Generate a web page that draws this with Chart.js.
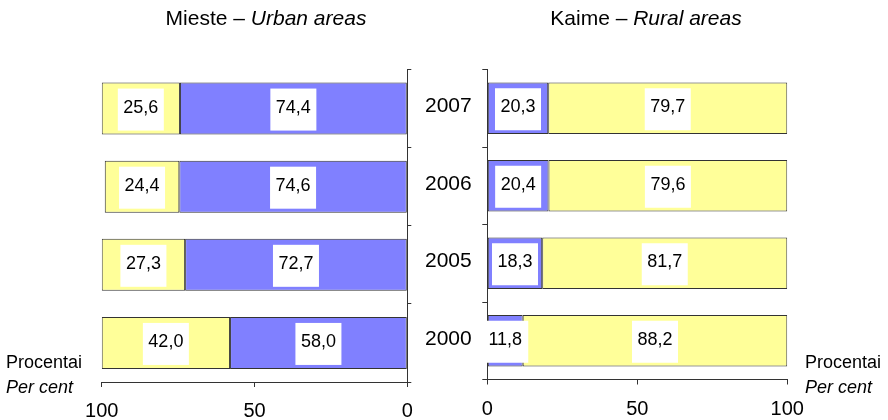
<!DOCTYPE html>
<html>
<head>
<meta charset="utf-8">
<script src="https://cdn.jsdelivr.net/npm/chart.js@4.4.1/dist/chart.umd.min.js"></script>
<style>
  html, body { margin: 0; padding: 0; background: #fff; }
  #wrap { position: relative; width: 888px; height: 420px; overflow: hidden; background: #fff; }
  #cUrban { position: absolute; left: 0; top: 0; }
  #cRural { position: absolute; left: 418px; top: 0; }
</style>
</head>
<body>
<div id="wrap">
  <canvas id="cUrban" width="418" height="420"></canvas>
  <canvas id="cRural" width="470" height="420"></canvas>
</div>
<script>
// ---- data ----
const years = ['2007', '2006', '2005', '2000'];
const urbanBlue   = [74.4, 74.6, 72.7, 58.0];
const urbanYellow = [25.6, 24.4, 27.3, 42.0];
const ruralBlue   = [20.3, 20.4, 18.3, 11.8];
const ruralYellow = [79.7, 79.6, 81.7, 88.2];
const xTickValues = [0, 50, 100];
const urbanTitle = ['Mieste – ', 'Urban areas'];
const ruralTitle = ['Kaime – ', 'Rural areas'];
const unitLabel = ['Procentai', 'Per cent'];

// ---- styling ----
const BLUE = '#8080FF';
const YELLOW = '#FFFF99';
const EDGE = '#333333';
const FONT = 'Arial, "Liberation Sans", sans-serif';
Chart.defaults.font.family = FONT;
Chart.defaults.color = '#000';

const fmt = v => v.toFixed(1).replace('.', ',');

const valueBoxes = {
  id: 'valueBoxes',
  afterDatasetsDraw(chart) {
    const ctx = chart.ctx;
    ctx.save();
    ctx.font = '18px ' + FONT;
    ctx.textAlign = 'center';
    ctx.textBaseline = 'middle';
    chart.data.datasets.forEach((ds, i) => {
      const meta = chart.getDatasetMeta(i);
      meta.data.forEach((bar, j) => {
        const cx = (bar.x + bar.base) / 2;
        const cy = bar.y;
        ctx.fillStyle = '#fff';
        ctx.fillRect(cx - 23, cy - 20, 46, 42);
        ctx.fillStyle = '#000';
        ctx.fillText(fmt(ds.data[j]), cx, cy - 1);
      });
    });
    ctx.restore();
  }
};

const panelText = {
  id: 'panelText',
  afterDraw(chart, args, opts) {
    const ctx = chart.ctx;
    ctx.save();
    ctx.fillStyle = '#000';
    ctx.textBaseline = 'alphabetic';
    ctx.textAlign = 'left';
    // title: normal + italic
    ctx.font = '21px ' + FONT;
    const w1 = ctx.measureText(opts.title[0]).width;
    ctx.font = 'italic 21px ' + FONT;
    const w2 = ctx.measureText(opts.title[1]).width;
    let x = opts.titleCenter - (w1 + w2) / 2;
    ctx.font = '21px ' + FONT;
    ctx.fillText(opts.title[0], x, 25);
    ctx.font = 'italic 21px ' + FONT;
    ctx.fillText(opts.title[1], x + w1, 25);
    // unit label
    ctx.font = '18px ' + FONT;
    ctx.fillText(opts.unit[0], opts.unitX, 368);
    ctx.font = 'italic 18px ' + FONT;
    ctx.fillText(opts.unit[1], opts.unitX, 393);
    ctx.restore();
  }
};

function makeChart(id, blue, yellow, cfg) {
  return new Chart(document.getElementById(id), {
    type: 'bar',
    data: {
      labels: years,
      datasets: [
        { label: 'A', data: blue, backgroundColor: BLUE, borderColor: EDGE, borderWidth: 1, borderSkipped: false },
        { label: 'B', data: yellow, backgroundColor: YELLOW, borderColor: EDGE, borderWidth: 1, borderSkipped: false }
      ]
    },
    options: {
      indexAxis: 'y',
      responsive: false,
      animation: false,
      devicePixelRatio: 1,
      layout: { padding: cfg.padding },
      datasets: { bar: { categoryPercentage: 1, barPercentage: 0.667 } },
      plugins: {
        legend: { display: false },
        title: { display: false },
        tooltip: { enabled: false },
        panelText: cfg.text
      },
      scales: {
        x: {
          stacked: true,
          min: 0, max: 100,
          reverse: cfg.reverse,
          afterBuildTicks: s => { s.ticks = xTickValues.map(v => ({ value: v })); },
          afterFit: s => { s.height = cfg.xHeight; },
          grid: { drawOnChartArea: false, drawTicks: true, tickLength: 5, color: EDGE },
          border: { display: true, color: EDGE, width: 1 },
          ticks: { font: { size: 20 }, color: '#000', padding: cfg.xPad, maxRotation: 0 }
        },
        y: {
          stacked: true,
          position: cfg.yPos,
          offset: true,
          afterFit: s => { s.width = cfg.yWidth; },
          grid: { offset: true, drawOnChartArea: false, drawTicks: true, tickLength: cfg.yTick, color: EDGE },
          border: { display: true, color: EDGE, width: 1 },
          ticks: { display: cfg.yLabels, font: { size: 21 }, color: '#000', padding: 10.6, labelOffset: -2, autoSkip: false }
        }
      }
    },
    plugins: [valueBoxes, panelText]
  });
}

makeChart('cUrban', urbanBlue, urbanYellow, {
  padding: { left: 101.7, right: 0, top: 69.5, bottom: 0 },
  reverse: true,
  xHeight: 38,
  xPad: 12,
  yPos: 'right',
  yWidth: 10.7,
  yTick: 4,
  yLabels: false,
  text: { title: urbanTitle, titleCenter: 266, unit: unitLabel, unitX: 6 }
});

makeChart('cRural', ruralBlue, ruralYellow, {
  padding: { left: 0, right: 100.7, top: 69.5, bottom: 0 },
  reverse: false,
  xHeight: 40.5,
  xPad: 13,
  yPos: 'left',
  yWidth: 69.3,
  yTick: 5,
  yLabels: true,
  text: { title: ruralTitle, titleCenter: 228, unit: unitLabel, unitX: 387 }
});
</script>
</body>
</html>
